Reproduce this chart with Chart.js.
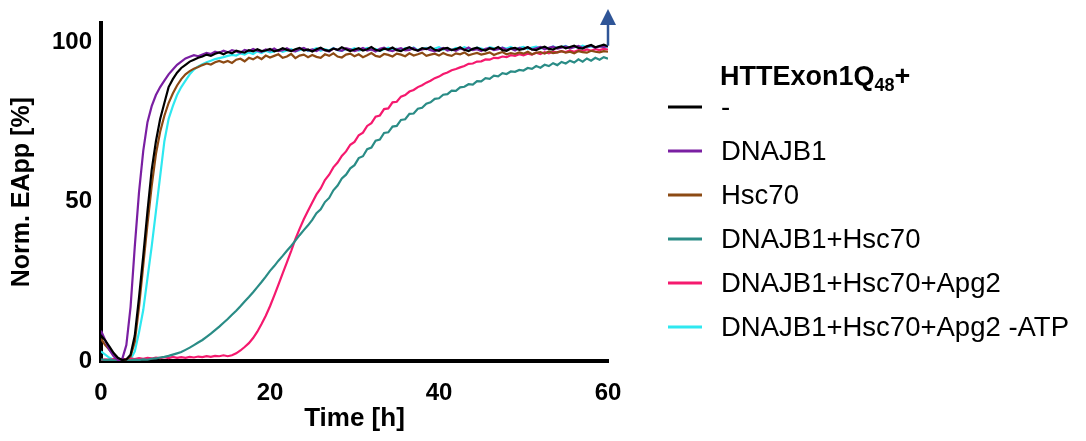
<!DOCTYPE html>
<html>
<head>
<meta charset="utf-8">
<script src="https://cdn.jsdelivr.net/npm/chart.js@4.4.1/dist/chart.umd.min.js"></script>
<style>
  html, body { margin: 0; padding: 0; background: #fff; }
  #wrap { width: 1086px; height: 441px; }
</style>
</head>
<body>
<div id="wrap"><canvas id="eapp-chart" width="1086" height="441"></canvas></div>
<script>
const legendTitle = "HTTExon1Q";
const legendTitleSub = "48";
const legendTitleEnd = "+";
const seriesLabels = ["-", "DNAJB1", "Hsc70", "DNAJB1+Hsc70", "DNAJB1+Hsc70+Apg2", "DNAJB1+Hsc70+Apg2 -ATP"];
const seriesColors = ["#000000", "#7a1fa2", "#8c4a14", "#2a8c86", "#f5196e", "#2ee8f0"];
const xTickValues = [0, 20, 40, 60];
const yTickValues = [0, 50, 100];

// time in hours, every 0.5 h
const times = [
  0, 0.5, 1, 1.5, 2, 2.5, 3, 3.5, 4, 4.5,
  5, 5.5, 6, 6.5, 7, 7.5, 8, 8.5, 9, 9.5,
  10, 10.5, 11, 11.5, 12, 12.5, 13, 13.5, 14, 14.5,
  15, 15.5, 16, 16.5, 17, 17.5, 18, 18.5, 19, 19.5,
  20, 20.5, 21, 21.5, 22, 22.5, 23, 23.5, 24, 24.5,
  25, 25.5, 26, 26.5, 27, 27.5, 28, 28.5, 29, 29.5,
  30, 30.5, 31, 31.5, 32, 32.5, 33, 33.5, 34, 34.5,
  35, 35.5, 36, 36.5, 37, 37.5, 38, 38.5, 39, 39.5,
  40, 40.5, 41, 41.5, 42, 42.5, 43, 43.5, 44, 44.5,
  45, 45.5, 46, 46.5, 47, 47.5, 48, 48.5, 49, 49.5,
  50, 50.5, 51, 51.5, 52, 52.5, 53, 53.5, 54, 54.5,
  55, 55.5, 56, 56.5, 57, 57.5, 58, 58.5, 59, 59.5,
  60
];

const noChaperone = [
  8, 6.5, 4.5, 2.5, 1, 0.3, 0.5, 2, 8, 20,
  33, 47, 60, 69, 76, 81, 86, 88.5, 90.5, 92,
  93, 94, 94.6, 95.2, 95.6, 96.2, 95.8, 96.5, 96.9, 96.3,
  97, 96.6, 97.4, 97.1, 96.8, 97.6, 97.2, 97.9, 97.3, 97.5,
  98, 97.2, 97.6, 98.2, 97.7, 97.3, 97.9, 98.3, 97.5, 97.8,
  97.2, 97.9, 98.4, 97.6, 97.4, 98.1, 97.7, 98.5, 97.9, 97.3,
  97.8, 98.2, 97.5, 97.9, 98.6, 97.7, 97.4, 98.1, 97.8, 98.4,
  97.6, 97.3, 98, 98.5, 97.8, 97.5, 98.2, 97.9, 98.6, 97.7,
  97.4, 98.1, 98.3, 97.6, 97.9, 98.5, 97.7, 97.3, 98, 98.4,
  97.8, 97.5, 98.2, 97.9, 98.6, 97.6, 97.4, 98.1, 98.3, 97.7,
  98, 98.5, 97.8, 97.6, 98.3, 98.7, 98, 97.8, 98.4, 98.8,
  98.2, 98.6, 99, 98.3, 98.1, 98.8, 99.2, 98.5, 98.9, 99.3,
  98.8
];

const dnajb1 = [
  9.5, 6.5, 3.5, 1.5, 0.3, 0.5, 5, 17, 36, 53,
  66, 75, 80, 83.5, 86, 88, 90, 91.5, 93, 94,
  95, 95.5, 96, 95.7, 96.2, 96.7, 96.4, 97.1, 96.8, 97.4,
  96.9, 97.6, 97.2, 96.8, 97.7, 97.3, 98, 97.4, 97.1, 97.8,
  97.5, 98.1, 97.3, 97.6, 98.2, 97.4, 97.2, 97.9, 98.3, 97.5,
  97.8, 97.3, 98, 97.6, 97.2, 98.1, 97.7, 97.4, 98.2, 97.9,
  97.3, 97.7, 98.3, 97.5, 97.8, 97.2, 98, 98.4, 97.6, 97.3,
  97.9, 98.2, 97.5, 97.7, 98.3, 97.4, 97.8, 98.1, 97.6, 97.2,
  97.9, 98.3, 97.5, 97.8, 97.4, 98.1, 97.7, 98.4, 97.6, 97.9,
  97.3, 98, 98.2, 97.6, 97.9, 98.4, 97.7, 98.1, 97.5, 98.3,
  97.9, 98.5, 97.8, 98.2, 98.6, 97.9, 98.3, 98.7, 98.1, 98.4,
  98.8, 98.2, 98.5, 98.9, 98.3, 98.7, 99, 98.4, 98.8, 98.6,
  98.9
];

const hsc70 = [
  7, 5, 3.5, 2, 0.8, 0.3, 0.5, 1.5, 6, 17,
  30, 43, 55, 65, 72, 77, 81, 84, 86.5, 88.5,
  90, 91, 91.8, 92.3, 92.9, 93.4, 93.1, 93.8, 94.2, 93.7,
  94.2, 93.6, 94.6, 94.9, 94.1, 95.2, 94.7, 95.5, 94.8, 95.9,
  95.3, 95.8, 96.3, 95.2, 95.6, 96.4, 95.1, 95.9, 96.2, 95.4,
  96.1, 95.5, 95.2, 96.3, 95.8, 96.6, 95.6, 95.3, 96.2, 96.5,
  95.7, 96.3, 95.4, 96, 96.7, 95.8, 95.5, 96.4, 96.1, 95.6,
  96.5, 96.2, 95.7, 96.6, 95.9, 96.3, 96.8, 95.8, 96.2, 96.5,
  95.9, 96.7, 96.1, 95.8, 96.6, 96.3, 96.9, 96, 96.4, 96.7,
  96.2, 96.5, 96.9, 96.1, 96.6, 97, 96.3, 96.7, 96.4, 96.9,
  96.5, 97.1, 96.3, 96.8, 97, 96.5, 97.2, 96.7, 96.9, 97.3,
  96.8, 97.1, 96.6, 97.3, 97, 96.8, 97.4, 97.1, 96.9, 97.3,
  97.1
];

const dnajb1Hsc70 = [
  0.5, 0.3, 0.4, 0.2, 0.3, 0.1, 0.3, 0.2, 0.4, 0.3,
  0.5, 0.4, 0.7, 0.8, 1.1, 1.3, 1.6, 2, 2.4, 2.8,
  3.5, 4.2, 5, 5.8, 6.6, 7.6, 8.6, 9.7, 10.8, 12,
  13.2, 14.5, 15.8, 17.2, 18.7, 20.1, 21.6, 23.2, 24.8, 26.5,
  28.3, 29.8, 31.5, 33, 34.6, 36.1, 37.8, 39.5, 41.1, 42.6,
  44.3, 46.4, 47.6, 49.9, 51.2, 53.6, 55.1, 57.3, 58.5, 60.5,
  61.5, 63.7, 64.3, 66.5, 67, 69.2, 69.5, 71.6, 71.8, 73.6,
  73.8, 75.7, 75.9, 77.6, 77.7, 79.2, 79.5, 80.8, 81.2, 82.3,
  82.5, 83.6, 83.8, 84.9, 84.8, 85.9, 86.1, 86.9, 86.8, 87.9,
  87.8, 88.8, 88.6, 89.6, 89.4, 90.4, 90.1, 90.9, 90.8, 91.4,
  91.2, 92, 91.7, 92.6, 92.1, 93, 92.6, 93.5, 92.9, 93.9,
  93.4, 94.3, 93.7, 94.7, 94, 95, 94.3, 95.2, 94.6, 95.4,
  94.9
];

const dnajb1Hsc70Apg2 = [
  0.3, 0.5, 0.4, 0.6, 0.4, 0.7, 0.5, 0.8, 0.6, 0.9,
  0.7, 1, 0.8, 1.1, 0.9, 1.2, 0.9, 1.3, 1, 1.2,
  1, 1.3, 1.1, 1.4, 1.2, 1.5, 1.3, 1.6, 1.5, 1.8,
  1.5, 1.8, 2.4, 3.3, 4.4, 5.6, 7.2, 9.2, 11.6, 14.2,
  17.2, 20.5, 24, 27.5, 31, 34.5, 38.3, 41.5, 44.5, 47.2,
  49.8, 52.3, 54.2, 56.8, 58.5, 60.8, 62.3, 64.4, 65.8, 67.9,
  68.8, 70.9, 71.7, 73.8, 74.7, 76.7, 77.1, 79.1, 79.3, 81.2,
  81.4, 83, 83.5, 84.6, 85.1, 86, 86.6, 87.4, 88, 88.8,
  89.3, 90.1, 90.6, 91.3, 91.7, 92.2, 92.6, 93.3, 93.4, 94,
  94.1, 94.7, 94.6, 95.2, 95.1, 95.6, 95.4, 96, 95.8, 96.3,
  96, 96.5, 96.2, 96.8, 96.4, 97, 96.6, 97.1, 96.9, 97.3,
  97, 97.5, 97.1, 97.6, 97.3, 97.8, 97.4, 97.9, 97.6, 98,
  97.8
];

const dnajb1Hsc70Apg2NoAtp = [
  3, 2, 1, 0.5, 0.2, 0, 0.2, 0.5, 3, 9,
  16, 26, 36, 47, 58, 69, 76, 80, 83.5, 86,
  88, 90, 91.5, 92.5, 93.2, 93.8, 94.3, 94.8, 95.1, 95.4,
  95.8, 96.1, 95.9, 96.6, 96.2, 96.9, 96.4, 97.2, 96.7, 97.4,
  96.9, 97.2, 97.7, 97.1, 97.5, 97.9, 97.2, 97.6, 98.1, 97.3,
  97.7, 98.2, 97.4, 97.9, 97.5, 98.3, 97.6, 97.4, 98, 97.7,
  98.2, 97.5, 97.8, 98.3, 97.6, 98, 97.4, 97.9, 98.4, 97.7,
  98.1, 97.5, 98.2, 97.8, 98.4, 97.6, 98, 98.3, 97.7, 98.1,
  98.5, 97.8, 98.2, 97.6, 98.3, 97.9, 98.5, 98, 97.8, 98.4,
  98.1, 97.7, 98.5, 98.2, 97.9, 98.4, 98.1, 98.6, 97.9, 98.3,
  98.6, 98, 98.4, 98.7, 98.1, 98.5, 98.2, 98.8, 98.3, 98.6,
  98.9, 98.3, 98.7, 98.4, 99, 98.5, 98.8, 98.3, 98.9, 98.6,
  98.7
];

const seriesValues = [noChaperone, dnajb1, hsc70, dnajb1Hsc70, dnajb1Hsc70Apg2, dnajb1Hsc70Apg2NoAtp];

// blue marker arrow at the end of the time course (x, y from, y to)
const arrowX = 60;
const arrowFrom = 99;
const arrowTo = 110.5;

const fontFamily = "'Liberation Sans', Arial, sans-serif";

const datasets = seriesValues.map((values, i) => ({
  label: seriesLabels[i],
  data: values.map((v, j) => ({ x: times[j], y: v })),
  borderColor: seriesColors[i],
  backgroundColor: seriesColors[i],
  borderWidth: 2.2,
  pointRadius: 0,
  tension: 0,
  fill: false,
}));

const sideLegend = {
  id: "sideLegend",
  afterDraw(chart) {
    const ctx = chart.ctx;
    ctx.save();
    ctx.textBaseline = "alphabetic";
    ctx.fillStyle = "#000";
    // title with subscript
    let x = 720;
    ctx.font = "bold 27px " + fontFamily;
    ctx.fillText(legendTitle, x, 85);
    x += ctx.measureText(legendTitle).width;
    ctx.font = "bold 18px " + fontFamily;
    ctx.fillText(legendTitleSub, x, 91);
    x += ctx.measureText(legendTitleSub).width;
    ctx.font = "bold 27px " + fontFamily;
    ctx.fillText(legendTitleEnd, x, 85);

    ctx.font = "27.5px " + fontFamily;
    ctx.textBaseline = "middle";
    chart.data.datasets.forEach((ds, i) => {
      const y = 107 + i * 44;
      ctx.strokeStyle = ds.borderColor;
      ctx.lineWidth = 3;
      ctx.beginPath();
      ctx.moveTo(668, y);
      ctx.lineTo(702, y);
      ctx.stroke();
      ctx.fillStyle = "#000";
      ctx.fillText(ds.label, 721, y + 1);
    });
    ctx.restore();
  },
};

const endArrow = {
  id: "endArrow",
  afterDraw(chart) {
    const { x, y } = chart.scales;
    const ctx = chart.ctx;
    const px = x.getPixelForValue(arrowX);
    const y0 = y.getPixelForValue(arrowFrom);
    const y1 = y.getPixelForValue(arrowTo);
    ctx.save();
    ctx.strokeStyle = "#2f5597";
    ctx.fillStyle = "#2f5597";
    ctx.lineWidth = 2.5;
    ctx.beginPath();
    ctx.moveTo(px, y0);
    ctx.lineTo(px, y1 + 12);
    ctx.stroke();
    ctx.beginPath();
    ctx.moveTo(px, y1);
    ctx.lineTo(px - 8, y1 + 16);
    ctx.lineTo(px + 8, y1 + 16);
    ctx.closePath();
    ctx.fill();
    ctx.restore();
  },
};

const ctxEapp = document.getElementById("eapp-chart").getContext("2d");
new Chart(ctxEapp, {
  type: "line",
  data: { datasets: datasets },
  options: {
    responsive: false,
    animation: false,
    events: [],
    layout: {
      padding: { left: 0, top: 21, right: 478, bottom: 0 },
    },
    scales: {
      x: {
        type: "linear",
        min: 0,
        max: 60,
        afterFit: (scale) => { scale.height = 80; },
        afterBuildTicks: (scale) => { scale.ticks = xTickValues.map((v) => ({ value: v })); },
        grid: { display: false, drawTicks: false },
        border: { display: true, color: "#000", width: 4 },
        ticks: {
          padding: 18,
          color: "#000",
          maxRotation: 0,
          font: { family: fontFamily, size: 24, weight: "bold" },
        },
        title: {
          display: true,
          text: "Time [h]",
          color: "#000",
          padding: { top: 0, bottom: 7 },
          font: { family: fontFamily, size: 26, weight: "bold", lineHeight: 1.2 },
        },
      },
      y: {
        type: "linear",
        min: 0,
        max: 106,
        afterFit: (scale) => { scale.width = 101; },
        afterBuildTicks: (scale) => { scale.ticks = yTickValues.map((v) => ({ value: v })); },
        grid: { display: false, drawTicks: false },
        border: { display: true, color: "#000", width: 4 },
        ticks: {
          padding: 9,
          color: "#000",
          font: { family: fontFamily, size: 24, weight: "bold" },
        },
        title: {
          display: true,
          text: "Norm. EApp [%]",
          color: "#000",
          padding: { top: 7, bottom: 0 },
          font: { family: fontFamily, size: 25, weight: "bold", lineHeight: 1.2 },
        },
      },
    },
    plugins: {
      legend: { display: false },
      tooltip: { enabled: false },
    },
  },
  plugins: [sideLegend, endArrow],
});
</script>
</body>
</html>
